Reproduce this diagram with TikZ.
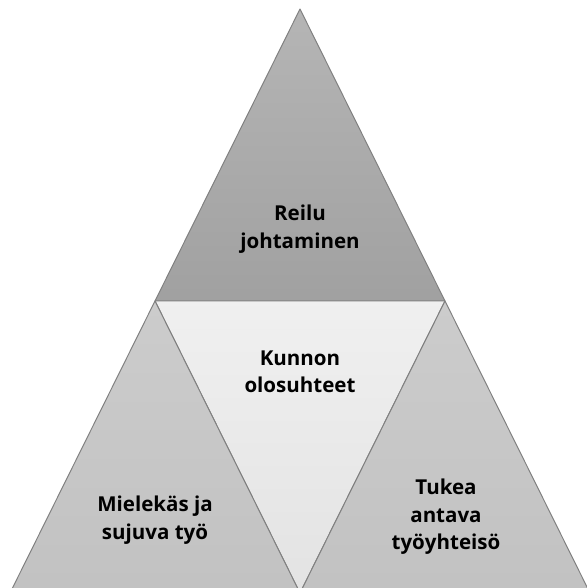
\documentclass[tikz,border=0pt]{standalone}
\usepackage{fontspec}
\setmainfont{Open Sans}
\usetikzlibrary{calc}
\tikzstyle{tri} = [draw = black!50, line width=0.7pt, line join=round]
\tikzstyle{lbl} = [align=center, font=\fontsize{14.6}{19.5}\selectfont\bfseries, text=black]

\begin{document}
\begin{tikzpicture}[x=0.025cm, y=-0.025cm]
	\useasboundingbox (0,0) rectangle (587,588);
	\clip (0,0) rectangle (587,588);
	\coordinate (T) at (300,9);
	\coordinate (L) at (155,301);
	\coordinate (R) at (445,301);
	\coordinate (B) at (300,593);
	\coordinate (BL) at (10,593);
	\coordinate (BR) at (590,593);
	% four triangles
	\draw [tri, top color=black!29, bottom color=black!37] (T) -- (R) -- (L) -- cycle;
	\draw [tri, top color=black!6, bottom color=black!11] (L) -- (R) -- (B) -- cycle;
	\draw [tri, top color=black!20, bottom color=black!24] (L) -- (B) -- (BL) -- cycle;
	\draw [tri, top color=black!20, bottom color=black!24] (R) -- (BR) -- (B) -- cycle;
	% labels
	\node (reilu) [lbl] at (300,229) {Reilu\\johtaminen};
	\node (kunnon) [lbl] at (300,372) {Kunnon\\olosuhteet};
	\node (mielekas) [lbl] at (155,520) {Mielekäs ja\\sujuva työ};
	\node (tukea) [lbl] at (446,517) {Tukea\\antava\\työyhteisö};
\end{tikzpicture}
\end{document}
